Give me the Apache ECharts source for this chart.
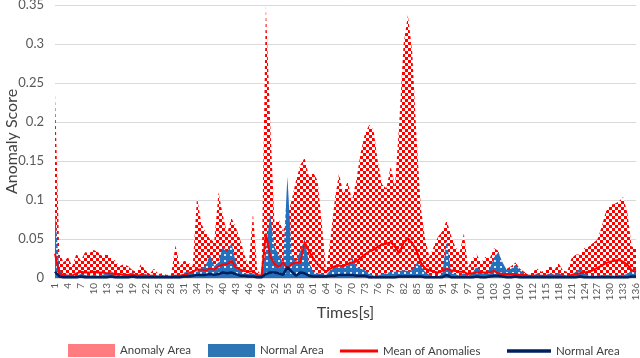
<!DOCTYPE html>
<html>
<head>
<meta charset="utf-8">
<script src="https://cdn.jsdelivr.net/npm/echarts@6/dist/echarts.min.js"></script>
<style>
  html, body { margin: 0; padding: 0; background: #fff; }
  #chart { width: 640px; height: 358px; }
</style>
</head>
<body>
<div id="chart"></div>
<script>
// x categories: seconds 1..136
let times = [];
for (let i = 1; i <= 136; i++) times.push(String(i));

let anomalyArea = [
  0.238, 0.032, 0.020, 0.027, 0.015, 0.031, 0.022, 0.033, 0.032, 0.036,
  0.033, 0.028, 0.031, 0.026, 0.022, 0.015, 0.018, 0.015, 0.010, 0.008,
  0.018, 0.010, 0.005, 0.012, 0.005, 0.006, 0.004, 0.005, 0.042, 0.015,
  0.022, 0.020, 0.015, 0.104, 0.070, 0.058, 0.050, 0.046, 0.110, 0.080,
  0.057, 0.077, 0.065, 0.050, 0.030, 0.015, 0.083, 0.010, 0.004, 0.349,
  0.200, 0.070, 0.075, 0.060, 0.080, 0.100, 0.125, 0.145, 0.154, 0.130,
  0.135, 0.125, 0.070, 0.010, 0.050, 0.100, 0.134, 0.108, 0.124, 0.100,
  0.125, 0.160, 0.185, 0.196, 0.190, 0.150, 0.120, 0.115, 0.143, 0.118,
  0.200, 0.300, 0.337, 0.290, 0.180, 0.090, 0.050, 0.027, 0.040, 0.053,
  0.060, 0.074, 0.055, 0.040, 0.032, 0.057, 0.014, 0.025, 0.030, 0.020,
  0.027, 0.025, 0.038, 0.035, 0.014, 0.012, 0.015, 0.020, 0.012, 0.008,
  0.004, 0.008, 0.012, 0.008, 0.010, 0.016, 0.010, 0.019, 0.010, 0.008,
  0.025, 0.030, 0.030, 0.038, 0.040, 0.045, 0.049, 0.065, 0.085, 0.094,
  0.095, 0.098, 0.104, 0.083, 0.040, 0.040
];

let normalArea = [
  0.085, 0.012, 0.003, 0.002, 0.002, 0.003, 0.005, 0.004, 0.003, 0.004,
  0.003, 0.004, 0.006, 0.009, 0.004, 0.003, 0.004, 0.005, 0.007, 0.003,
  0.003, 0.005, 0.002, 0.002, 0.003, 0.004, 0.002, 0.002, 0.003, 0.003,
  0.007, 0.008, 0.008, 0.008, 0.012, 0.016, 0.030, 0.015, 0.020, 0.040,
  0.033, 0.045, 0.020, 0.010, 0.006, 0.005, 0.006, 0.003, 0.002, 0.035,
  0.082, 0.040, 0.030, 0.020, 0.130, 0.030, 0.020, 0.035, 0.050, 0.020,
  0.008, 0.006, 0.005, 0.004, 0.010, 0.013, 0.015, 0.015, 0.016, 0.027,
  0.015, 0.012, 0.010, 0.007, 0.003, 0.003, 0.005, 0.006, 0.008, 0.008,
  0.009, 0.010, 0.009, 0.010, 0.019, 0.015, 0.008, 0.004, 0.002, 0.002,
  0.005, 0.049, 0.008, 0.005, 0.003, 0.006, 0.003, 0.006, 0.015, 0.008,
  0.005, 0.012, 0.026, 0.033, 0.020, 0.010, 0.012, 0.017, 0.010, 0.006,
  0.003, 0.002, 0.006, 0.002, 0.003, 0.007, 0.004, 0.007, 0.003, 0.002,
  0.004, 0.008, 0.012, 0.006, 0.003, 0.003, 0.003, 0.004, 0.004, 0.004,
  0.003, 0.004, 0.004, 0.005, 0.010, 0.010
];

let meanAnomalies = [
  0.031, 0.006, 0.004, 0.003, 0.003, 0.006, 0.008, 0.007, 0.007, 0.008,
  0.007, 0.007, 0.006, 0.006, 0.005, 0.005, 0.004, 0.004, 0.004, 0.003,
  0.004, 0.003, 0.003, 0.003, 0.002, 0.002, 0.002, 0.002, 0.003, 0.003,
  0.004, 0.006, 0.008, 0.011, 0.011, 0.010, 0.012, 0.011, 0.015, 0.017,
  0.018, 0.022, 0.014, 0.011, 0.009, 0.008, 0.009, 0.004, 0.003, 0.057,
  0.028, 0.018, 0.014, 0.020, 0.012, 0.018, 0.020, 0.020, 0.046, 0.035,
  0.025, 0.018, 0.012, 0.008, 0.012, 0.015, 0.016, 0.015, 0.018, 0.020,
  0.021, 0.026, 0.030, 0.034, 0.036, 0.040, 0.043, 0.044, 0.046, 0.040,
  0.032, 0.045, 0.051, 0.045, 0.035, 0.020, 0.012, 0.010, 0.008, 0.007,
  0.009, 0.012, 0.010, 0.009, 0.008, 0.008, 0.005, 0.006, 0.007, 0.007,
  0.007, 0.007, 0.009, 0.006, 0.005, 0.005, 0.005, 0.005, 0.004, 0.004,
  0.003, 0.003, 0.003, 0.003, 0.003, 0.003, 0.003, 0.003, 0.003, 0.002,
  0.004, 0.005, 0.006, 0.007, 0.008, 0.010, 0.013, 0.016, 0.019, 0.021,
  0.022, 0.023, 0.021, 0.017, 0.010, 0.008
];

let meanNormal = [
  0.008, 0.002, 0.001, 0.001, 0.001, 0.001, 0.002, 0.001, 0.001, 0.001,
  0.001, 0.001, 0.001, 0.002, 0.001, 0.001, 0.001, 0.001, 0.002, 0.001,
  0.001, 0.001, 0.001, 0.001, 0.001, 0.001, 0.001, 0.001, 0.001, 0.001,
  0.002, 0.002, 0.003, 0.004, 0.004, 0.004, 0.005, 0.004, 0.005, 0.007,
  0.006, 0.007, 0.005, 0.003, 0.003, 0.002, 0.002, 0.001, 0.001, 0.005,
  0.007, 0.007, 0.006, 0.004, 0.014, 0.008, 0.003, 0.007, 0.006, 0.003,
  0.002, 0.002, 0.002, 0.002, 0.003, 0.003, 0.004, 0.004, 0.004, 0.004,
  0.003, 0.003, 0.003, 0.001, 0.001, 0.001, 0.001, 0.001, 0.001, 0.001,
  0.002, 0.002, 0.002, 0.002, 0.002, 0.002, 0.001, 0.001, 0.001, 0.001,
  0.001, 0.004, 0.001, 0.001, 0.001, 0.001, 0.001, 0.001, 0.002, 0.001,
  0.001, 0.002, 0.003, 0.003, 0.002, 0.001, 0.001, 0.002, 0.001, 0.001,
  0.001, 0.001, 0.001, 0.001, 0.001, 0.001, 0.001, 0.001, 0.001, 0.001,
  0.001, 0.001, 0.002, 0.001, 0.001, 0.001, 0.001, 0.001, 0.001, 0.001,
  0.001, 0.001, 0.001, 0.001, 0.002, 0.002
];

let yTicks = [0, 0.05, 0.1, 0.15, 0.2, 0.25, 0.3, 0.35];

// excel-like fill patterns
function checkerPattern() {
    let c = document.createElement('canvas');
    c.width = 6; c.height = 6;
    let ctx = c.getContext('2d');
    ctx.fillStyle = '#ffffff';
    ctx.fillRect(0, 0, 6, 6);
    ctx.fillStyle = '#ff0000';
    ctx.fillRect(0, 0, 3, 3);
    ctx.fillRect(3, 3, 3, 3);
    return c;
}
function dotPattern() {
    let c = document.createElement('canvas');
    c.width = 6; c.height = 6;
    let ctx = c.getContext('2d');
    ctx.fillStyle = '#2371bd';
    ctx.fillRect(0, 0, 6, 6);
    ctx.fillStyle = '#d9e6f3';
    ctx.fillRect(2, 2, 2, 2);
    return c;
}

let font = 'Lato';
let lineIcon = 'path://M0,0H40V3H0Z';
let legendBase = {
    bottom: 1,
    padding: 0,
    itemHeight: 13,
    itemGap: 0,
    selectedMode: false,
    textStyle: { fontFamily: font, fontSize: 11.5, color: '#404040' }
};

let chart = echarts.init(document.getElementById('chart'));
let option = {
    animation: false,
    backgroundColor: '#ffffff',
    textStyle: { fontFamily: font },
    grid: { left: 55, right: 4, top: 5, bottom: 80, containLabel: false, outerBoundsMode: 'none' },
    legend: [
        Object.assign({}, legendBase, { left: 68, itemWidth: 47, data: [{ name: 'Anomaly Area', icon: 'rect' }] }),
        Object.assign({}, legendBase, { left: 208, itemWidth: 47, data: [{ name: 'Normal Area', icon: 'rect' }] }),
        Object.assign({}, legendBase, { left: 340, itemWidth: 38, data: [{ name: 'Mean of Anomalies', icon: lineIcon }] }),
        Object.assign({}, legendBase, { left: 507, itemWidth: 44, data: [{ name: 'Normal Area ', icon: lineIcon }] })
    ],
    xAxis: {
        type: 'category',
        data: times,
        boundaryGap: false,
        name: 'Times[s]',
        nameLocation: 'middle',
        nameGap: 27,
        nameMoveOverlap: false,
        nameTextStyle: { fontFamily: font, fontSize: 16, color: '#404040' },
        axisLine: { lineStyle: { color: '#d9d9d9' } },
        axisTick: { show: false },
        axisLabel: { interval: 2, rotate: 90, fontSize: 10, color: '#595959', margin: 5 }
    },
    yAxis: {
        type: 'value',
        min: yTicks[0],
        max: yTicks[yTicks.length - 1],
        interval: 0.05,
        name: 'Anomaly Score',
        nameLocation: 'middle',
        nameGap: 35,
        nameMoveOverlap: false,
        nameTextStyle: { fontFamily: font, fontSize: 16, color: '#404040' },
        axisLine: { show: false },
        axisTick: { show: false },
        axisLabel: { fontSize: 13, color: '#595959', margin: 11 },
        splitLine: { lineStyle: { color: '#d9d9d9', width: 1 } }
    },
    series: [
        {
            name: 'Anomaly Area',
            type: 'line',
            data: anomalyArea,
            showSymbol: false,
            symbol: 'none',
            itemStyle: { color: '#ff7c80' },
            lineStyle: { width: 0 },
            areaStyle: { color: { image: checkerPattern(), repeat: 'repeat' }, opacity: 1 },
            z: 1
        },
        {
            name: 'Normal Area',
            type: 'line',
            data: normalArea,
            showSymbol: false,
            symbol: 'none',
            itemStyle: { color: '#2e75b6' },
            lineStyle: { width: 0 },
            areaStyle: { color: { image: dotPattern(), repeat: 'repeat' }, opacity: 1 },
            z: 2
        },
        {
            name: 'Mean of Anomalies',
            type: 'line',
            data: meanAnomalies,
            showSymbol: false,
            symbol: 'none',
            itemStyle: { color: '#ff0000' },
            lineStyle: { width: 2, color: '#ff0000' },
            z: 3
        },
        {
            name: 'Normal Area ',
            type: 'line',
            data: meanNormal,
            showSymbol: false,
            symbol: 'none',
            itemStyle: { color: '#002060' },
            lineStyle: { width: 2.5, color: '#002060' },
            z: 4
        }
    ]
};
chart.setOption(option);
</script>
</body>
</html>
